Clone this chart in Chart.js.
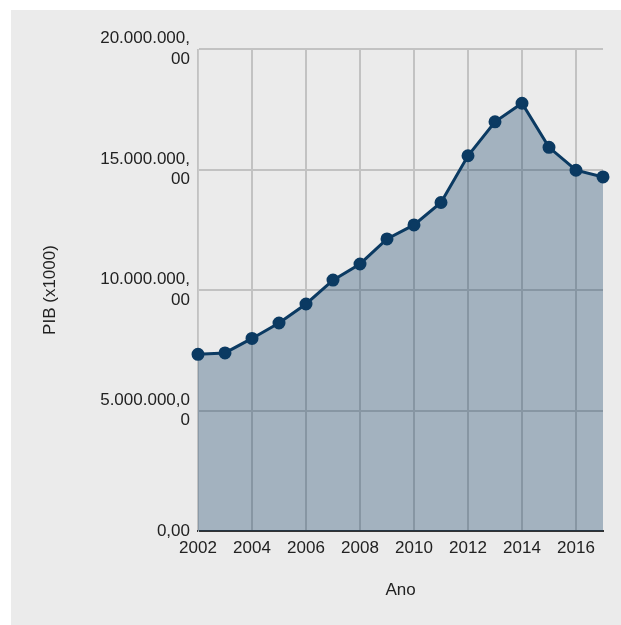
<!DOCTYPE html>
<html>
<head>
<meta charset="utf-8">
<script src="https://cdn.jsdelivr.net/npm/chart.js@4"></script>
<style>
  html, body { margin: 0; padding: 0; background: #fff; }
  #wrap { position: absolute; left: 11px; top: 10px; width: 610px; height: 615px; background: #ebebeb; }
</style>
</head>
<body>
<div id="wrap"><canvas id="chart"></canvas></div>
<script>
const years = ['2002', '2003', '2004', '2005', '2006', '2007', '2008', '2009',
               '2010', '2011', '2012', '2013', '2014', '2015', '2016', '2017'];
const pib = [7330000, 7390000, 7990000, 8630000, 9420000, 10410000, 11080000, 12120000,
             12700000, 13630000, 15570000, 16980000, 17750000, 15920000, 14970000, 14690000];

const fmt = new Intl.NumberFormat('pt-BR', {minimumFractionDigits: 2, maximumFractionDigits: 2});

// the y labels wrap after 11 characters, like in the original
function wrapLabel(value) {
    const s = fmt.format(value);
    const lines = [];
    for (let i = 0; i < s.length; i += 11) lines.push(s.slice(i, i + 11));
    return lines;
}

Chart.defaults.font.family = '"Liberation Sans", Arial, sans-serif';
Chart.defaults.font.size = 17;
Chart.defaults.color = '#222';

const ctx = document.getElementById('chart').getContext('2d');
new Chart(ctx, {
    type: 'line',
    data: {
        labels: years,
        datasets: [{
            label: 'PIB',
            data: pib,
            borderColor: '#0b3a62',
            backgroundColor: 'rgba(11, 58, 98, 0.32)',
            pointBackgroundColor: '#0b3a62',
            pointBorderColor: '#0b3a62',
            pointRadius: 5,
            borderWidth: 3,
            fill: 'origin',
            tension: 0
        }]
    },
    options: {
        responsive: true,
        maintainAspectRatio: false,
        animation: false,
        layout: { padding: { left: 0, right: 18, top: 39, bottom: 0 } },
        plugins: { legend: { display: false }, tooltip: { enabled: false } },
        scales: {
            x: {
                afterFit: s => { s.height = 94; },
                grid: { color: '#c2c2c2', lineWidth: 2, drawTicks: false },
                border: { color: '#333', width: 2 },
                ticks: {
                    autoSkip: false,
                    maxRotation: 0,
                    padding: 7,
                    callback: function(value, index) {
                        return index % 2 === 0 ? this.getLabelForValue(value) : null;
                    }
                },
                title: { display: true, text: 'Ano', padding: { top: 0, bottom: 24 } }
            },
            y: {
                min: 0,
                max: 20000000,
                afterFit: s => { s.width = 187; },
                grid: { color: '#c2c2c2', lineWidth: 2, drawTicks: false },
                border: { color: '#c8c8c8', width: 1 },
                ticks: {
                    stepSize: 5000000,
                    padding: 8,
                    callback: value => wrapLabel(value)
                },
                title: { display: true, text: 'PIB (x1000)', padding: { top: 29, bottom: 0 } }
            }
        }
    }
});
</script>
</body>
</html>
